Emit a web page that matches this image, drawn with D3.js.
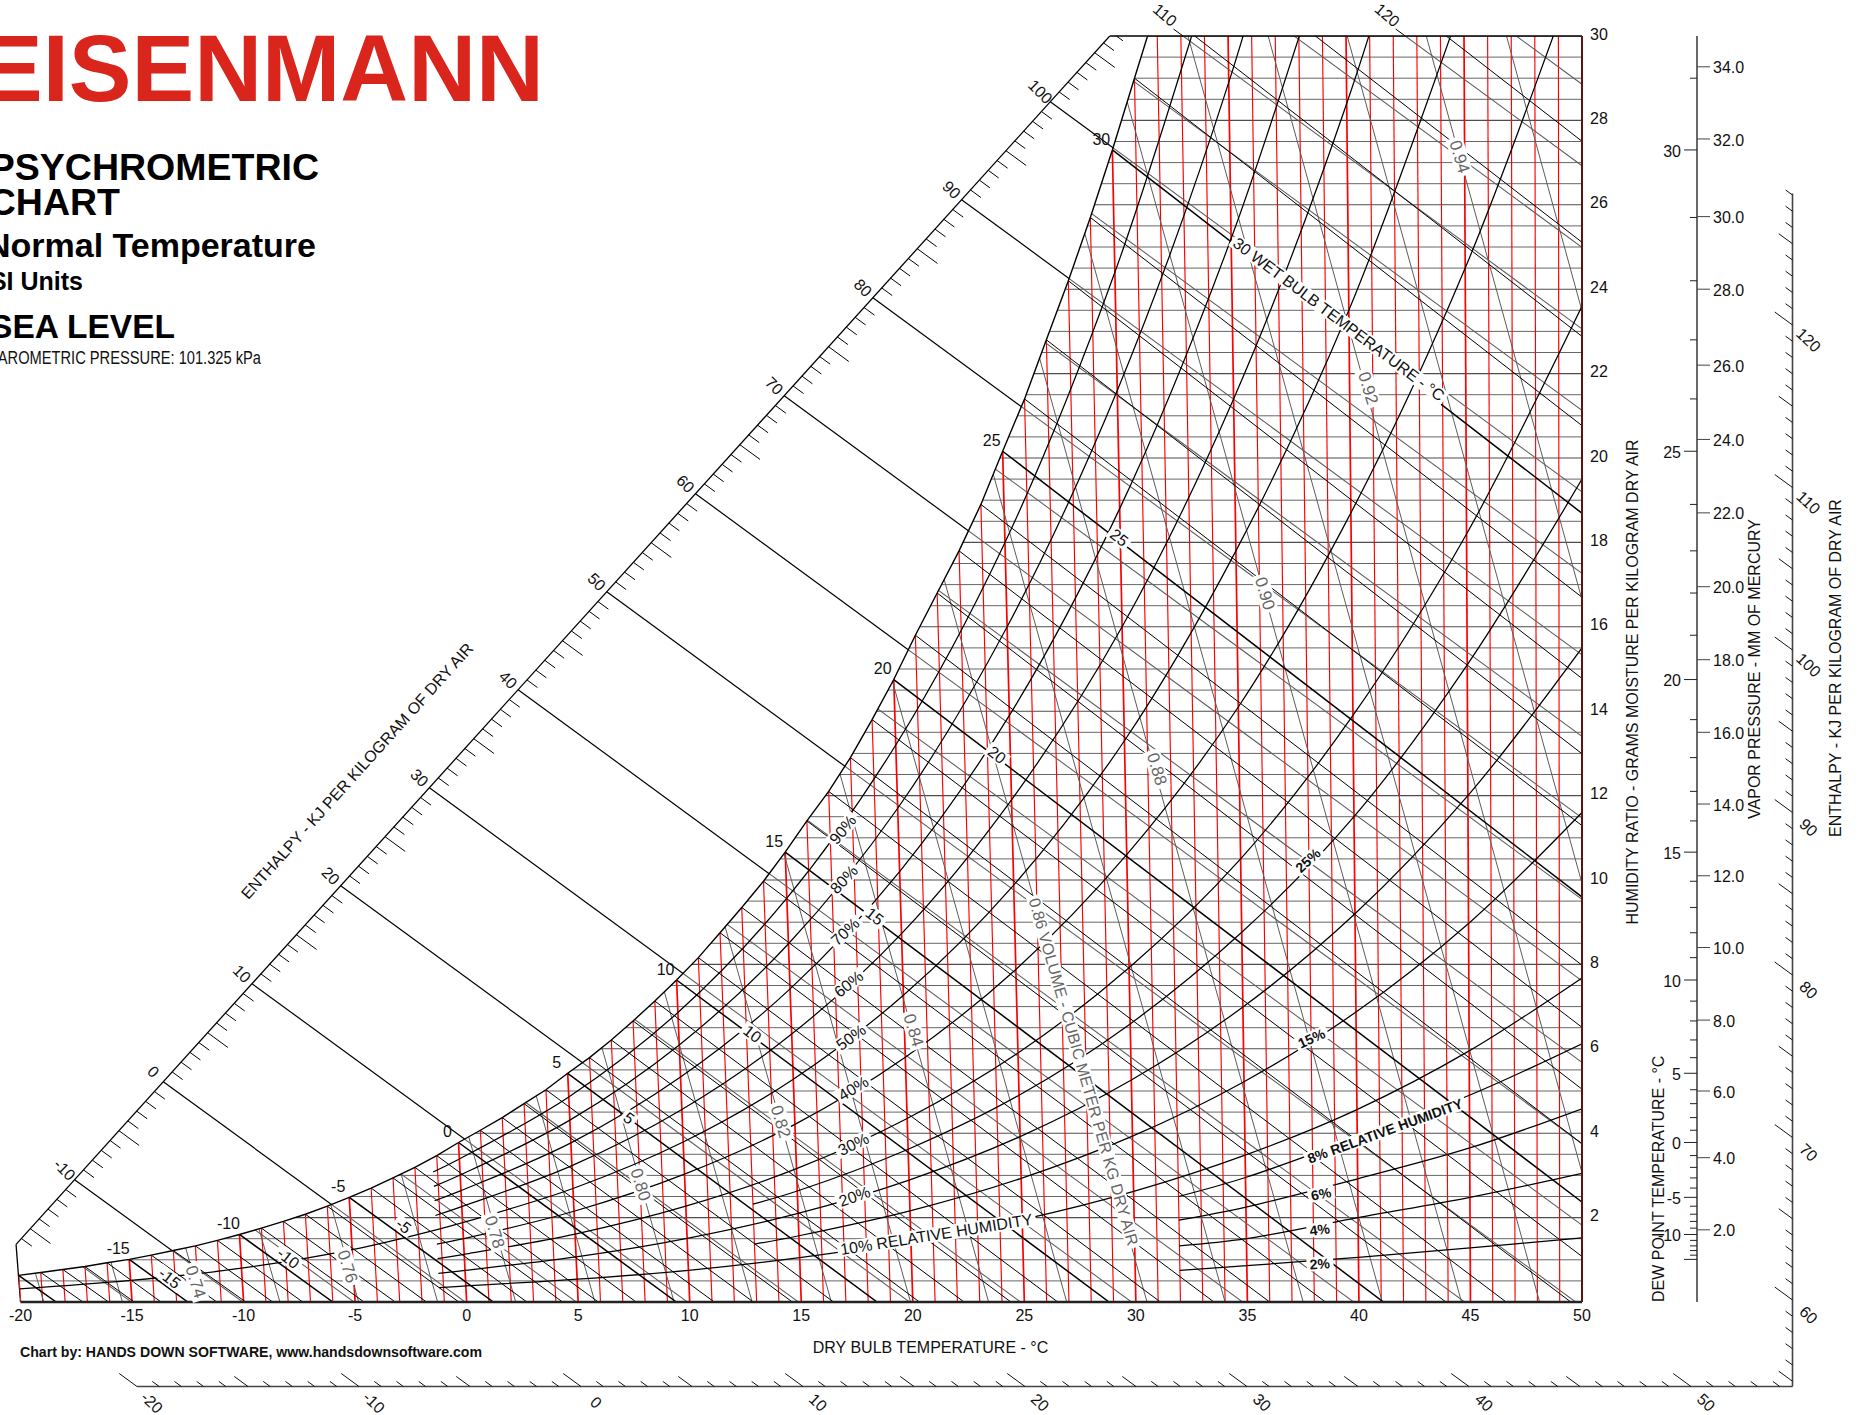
<!DOCTYPE html>
<html>
<head>
<meta charset="utf-8">
<script src="https://cdn.jsdelivr.net/npm/d3@7"></script>
<style>
	body { margin: 0; background: #fff; }
	svg { display: block; font-family: "Liberation Sans", Arial, sans-serif; }
	text { fill: #111; }
</style>
</head>
<body>
<svg id="chart" width="1861" height="1415"></svg>
<script>
// saturation curve, g/kg per degree
const sat_t = d3.range(-20, 33);
const sat_w = [0.63, 0.70, 0.77, 0.84, 0.93, 1.01, 1.11, 1.22, 1.33, 1.46,
	1.60, 1.75, 1.91, 2.08, 2.27, 2.48, 2.70, 2.94, 3.19, 3.47,
	3.78, 4.07, 4.37, 4.70, 5.03, 5.42, 5.79, 6.21, 6.66, 7.13,
	7.63, 8.16, 8.75, 9.35, 9.97, 10.66, 11.4, 12.1, 12.9, 13.8,
	14.75, 15.8, 16.8, 17.8, 18.9, 20.16, 21.4, 22.8, 24.2, 25.7,
	27.3, 29.0, 30.7];

// wet bulb lines: wet bulb temp, moisture at saturation, dry bulb where the line meets w = 0
const wb_t = d3.range(-20, 36);
const wb_w = sat_w.concat([32.5, 34.5, 36.7]);
const wb_end = [-18.4, -17.2, -16.05, -14.9, -13.7, -12.5, -11.2, -9.9, -8.7, -7.35,
	-6.0, -4.6, -3.2, -1.8, -0.35, 1.2, 2.7, 4.3, 5.9, 7.6,
	9.4, 11.1, 12.85, 14.6, 16.45, 18.4, 20.3, 22.3, 24.4, 26.5,
	28.8, 31.1, 33.5, 36, 38.5, 41.1, 43.9, 46.6, 49.5, 52.7,
	55.9, 59.3, 62.4, 66.1, 69.7, 73.6, 77.9, 81.8, 86.1, 90.9,
	95.7, 100.6, 105.8, 111.4, 117.1, 123.3];

// relative humidity curves, moisture at the temps in rh_t
const rh_t = [-1.2, 0, 5, 10, 15, 20, 25, 30, 35, 40, 45, 50];
const rh90 = [3.08, 3.39, 4.86, 6.86, 9.57, 13.2, 18.0, 24.4, 32.7];
const rh80 = [2.74, 3.01, 4.31, 6.09, 8.49, 11.7, 16.0, 21.6, 28.9, 38.5];
const rh70 = [2.40, 2.64, 3.77, 5.33, 7.42, 10.2, 13.9, 18.8, 25.2, 33.4];
const rh60 = [2.05, 2.26, 3.23, 4.56, 6.35, 8.73, 11.9, 16.0, 21.4, 28.4, 37.4];
const rh50 = [1.71, 1.88, 2.69, 3.79, 5.28, 7.27, 9.88, 13.3, 17.8, 23.5, 30.9];
const rh40 = [1.37, 1.50, 2.15, 3.03, 4.21, 5.80, 7.88, 10.6, 14.1, 18.7, 24.5, 31.9];
const rh30 = [1.03, 1.13, 1.61, 2.27, 3.16, 4.35, 5.90, 7.92, 10.5, 13.9, 18.2, 23.6];
const rh20 = [0.68, 0.75, 1.07, 1.51, 2.10, 2.89, 3.92, 5.26, 6.99, 9.20, 12.0, 15.5];
const rh10 = [0.34, 0.38, 0.54, 0.75, 1.05, 1.44, 1.95, 2.62, 3.48, 4.56, 5.95, 7.68];

// 50% carries on down to -20
const rh50_low_t = [-20, -15, -10, -5, -1.2];
const rh50_low = [0.31, 0.51, 0.80, 1.24, 1.71];

const rh_mid_t = [13, 15, 20, 25, 30, 35, 40, 45, 50];
const rh25 = [2.32, 2.63, 3.62, 4.90, 6.59, 8.76, 11.5, 15.1, 19.5];
const rh15 = [1.37, 1.57, 2.16, 2.93, 3.93, 5.22, 6.87, 8.97, 11.6];

const rh_low_t = [32, 35, 40, 45, 50];
const rh8 = [2.5, 2.95, 3.9, 4.9, 6.12];
const rh6 = [1.94, 2.25, 2.92, 3.65, 4.58];
const rh4 = [1.33, 1.5, 2.0, 2.48, 3.05];
const rh2 = [0.75, 0.86, 1.06, 1.28, 1.52];

// specific volume lines: dry bulb at w = 0 and at w = 30
const vol_vals = [0.72, 0.73, 0.74, 0.75, 0.76, 0.77, 0.78, 0.79, 0.80, 0.81, 0.82, 0.83, 0.84,
	0.85, 0.86, 0.87, 0.88, 0.89, 0.90, 0.91, 0.92, 0.93, 0.94, 0.95, 0.96];
const vol_t0 = [-18.96, -15.43, -11.9, -8.37, -4.84, -1.3, 2.2, 5.75, 9.3, 12.8, 16.35, 19.9, 23.4,
	26.9, 30.5, 34, 37.5, 41.05, 44.6, 48.1, 51.6, 55.2, 58.7, 62.2, 65.8];
const vol_t30 = [-30.65, -27.3, -23.9, -20.55, -17.2, -13.8, -10.45, -7.1, -3.7, -0.35, 3.0, 6.4, 9.75,
	13.1, 16.5, 19.85, 23.2, 26.6, 29.95, 33.3, 36.7, 40.05, 43.4, 46.8, 50.2];

// vapor pressure axis: mm Hg and the matching moisture
const vp_mm = ['2.0', '4.0', '6.0', '8.0', '10.0', '12.0', '14.0', '16.0', '18.0',
	'20.0', '22.0', '24.0', '26.0', '28.0', '30.0', '32.0', '34.0'];
const vp_w = [1.71, 3.42, 5.0, 6.68, 8.4, 10.1, 11.8, 13.5, 15.22,
	16.95, 18.7, 20.44, 22.2, 24.0, 25.72, 27.56, 29.27];

const dew_ticks = d3.range(-15, 32);
const dew_labels = [-10, -5, 0, 5, 10, 15, 20, 25, 30];
const db_labels = d3.range(-20, 51, 5);
const w_labels = d3.range(2, 31, 2);
const enth_upper_labels = d3.range(-10, 101, 10);
const enth_bottom_labels = d3.range(-20, 51, 10);
const enth_right_labels = d3.range(60, 121, 10);
const sat_labels = [-15, -10, -5, 0, 5, 10, 15, 20, 25, 30];

const SKEW = 0.043;
const x_t = d3.scaleLinear().domain([-20, 50]).range([20.5, 1582]);
const y_w = d3.scaleLinear().domain([0, 30]).range([1302, 36]);

// dry bulb lines fan out slightly, they are only truly vertical at 50
const project = (t, w) => [x_t(t) - SKEW * (50 - t) * w, y_w(w)];

const w_to_sat_t = d3.scaleLinear().domain(sat_w).range(sat_t);
const sat_w_at = d3.scaleLinear().domain(sat_t).range(sat_w);

// enthalpy axes
const upper_x = d3.scaleLinear().domain([0, 100]).range([163.3, 1050.3]);
const upper_y = d3.scaleLinear().domain([0, 100]).range([1081.7, 101.7]);
const bottom_x = d3.scaleLinear().domain([0, 50]).range([581, 1691]);
const right_y = d3.scaleLinear().domain([60, 120]).range([1300, 325]);
const BOTTOM_Y = 1386.5;
const RIGHT_X = 1792.5;
const UX = 0.807, UY = 0.59;

const DEW_X = 1697;

const svg = d3.select('#chart');
const px = v => v * 1861 / 1568;

const defs = svg.append('defs');
defs.append('clipPath').attr('id', 'plot_clip').append('rect')
	.attr('x', 0).attr('y', y_w(30))
	.attr('width', x_t(50)).attr('height', y_w(0) - y_w(30));

const sat_points = sat_t.map((t, i) => project(t, sat_w[i]));
const chart_outline = sat_points.concat([project(50, 30.7), project(50, 0), project(-20, 0)]);
defs.append('clipPath').attr('id', 'chart_clip').append('polygon')
	.attr('points', chart_outline.map(d => d.join(',')).join(' '));

const seg = (g, a, b, stroke, width) => g.append('line')
	.attr('x1', a[0]).attr('y1', a[1])
	.attr('x2', b[0]).attr('y2', b[1])
	.attr('stroke', stroke).attr('stroke-width', width);

const initEnthalpyScales = () => {
	const g = svg.append('g').attr('clip-path', 'url(#plot_clip)');

	// outer edge of the scale
	seg(g, [upper_x(-16.6), upper_y(-16.6)], [upper_x(106.7), upper_y(106.7)], '#000', 1.3);

	d3.range(-16, 112).forEach(h => {
		if (h % 10 === 0) return;
		const len = h % 5 === 0 ? 25 : 13;
		const p = [upper_x(h), upper_y(h)];
		seg(g, p, [p[0] + UX * len, p[1] + UY * len], '#000', 1);
	});

	// the long black lines across the empty part, down to the saturation curve
	enth_upper_labels.forEach(h => {
		seg(g, [upper_x(h), upper_y(h)], [bottom_x(h), BOTTOM_Y], '#000', 1.2);
	});

	enth_upper_labels.forEach(h => {
		svg.append('text')
			.attr('transform', `translate(${upper_x(h) - 10},${upper_y(h) - 10}) rotate(45)`)
			.attr('text-anchor', 'middle').attr('dy', '.35em')
			.attr('font-size', 16)
			.text(h);
	});

	// left edge below the scale
	seg(svg, [upper_x(-16.6), upper_y(-16.6)], [x_t(-20), y_w(0)], '#000', 1.3);

	// bottom scale
	const b = svg.append('g');
	seg(b, [bottom_x(-20), BOTTOM_Y], [RIGHT_X, BOTTOM_Y], '#444', 1.6);
	d3.range(-20, 55).forEach(h => {
		const len = h % 10 === 0 ? 22 : (h % 5 === 0 ? 17 : 8.6);
		const p = [bottom_x(h), BOTTOM_Y];
		seg(b, p, [p[0] - UX * len, p[1] - UY * len], '#111', 1);
	});
	enth_bottom_labels.forEach(h => {
		b.append('text')
			.attr('transform', `translate(${bottom_x(h) + 15},${BOTTOM_Y + 16}) rotate(43)`)
			.attr('text-anchor', 'middle').attr('dy', '.35em')
			.attr('font-size', 16)
			.text(h);
	});

	// right scale
	seg(b, [RIGHT_X, right_y(128.1)], [RIGHT_X, BOTTOM_Y], '#444', 1.6);
	d3.range(55, 129).forEach(h => {
		const len = h % 10 === 0 ? 22 : (h % 5 === 0 ? 17 : 8.6);
		const p = [RIGHT_X, right_y(h)];
		seg(b, p, [p[0] - UX * len, p[1] - UY * len], '#111', 1);
	});
	enth_right_labels.forEach(h => {
		b.append('text')
			.attr('transform', `translate(${RIGHT_X + 16},${right_y(h) + 15}) rotate(43)`)
			.attr('text-anchor', 'middle').attr('dy', '.35em')
			.attr('font-size', 16)
			.text(h);
	});
};

const initChart = () => {
	const plot = svg.append('g').attr('clip-path', 'url(#plot_clip)');
	const g = plot.append('g').attr('clip-path', 'url(#chart_clip)');

	g.append('polygon')
		.attr('points', chart_outline.map(d => d.join(',')).join(' '))
		.attr('fill', '#fff');

	// moisture lines every half gram, from the saturation curve to the right edge
	d3.range(0.5, 30.01, 0.5).forEach(w => {
		const t = w < sat_w[0] ? -20 : Math.min(w_to_sat_t(w), 32);
		seg(g, project(t, w), project(50, w), w % 2 === 0 ? '#4d4d4d' : '#5e5e5e', w % 2 === 0 ? 1.1 : 0.95);
	});

	// dry bulb
	d3.range(-20, 50).forEach(t => {
		const top = t <= 32 ? sat_w_at(t) : 30;
		seg(g, project(t, top), project(t, 0), '#f00', t % 5 === 0 ? 1.7 : 1.15);
	});

	// volume
	vol_vals.forEach((v, i) => {
		seg(g, project(vol_t0[i], 0), project(vol_t30[i], 30), '#5c5c5c', 1);
	});

	// enthalpy, grey inside the chart
	d3.range(-20, 131, 5).forEach(h => {
		seg(g, [upper_x(h), upper_y(h)], [bottom_x(h), BOTTOM_Y], '#5c5c5c', 1.05);
	});

	// wet bulb
	wb_t.forEach((t, i) => {
		seg(g, project(t, wb_w[i]), project(wb_end[i], 0), '#000', t % 5 === 0 ? 1.5 : 1);
	});

	// relative humidity
	const rh_line = d3.line()
		.x(d => project(d[0], d[1])[0])
		.y(d => project(d[0], d[1])[1])
		.curve(d3.curveCatmullRom);

	const curves = [
		[rh_t, rh90], [rh_t, rh80], [rh_t, rh70], [rh_t, rh60], [rh_t, rh50], [rh_t, rh40],
		[rh_t, rh30], [rh_t, rh20], [rh_t, rh10], [rh50_low_t, rh50_low],
		[rh_mid_t, rh25], [rh_mid_t, rh15],
		[rh_low_t, rh8], [rh_low_t, rh6], [rh_low_t, rh4], [rh_low_t, rh2]
	];
	curves.forEach(c => {
		g.append('path')
			.datum(d3.zip(c[0], c[1]))
			.attr('d', rh_line)
			.attr('fill', 'none')
			.attr('stroke', '#000')
			.attr('stroke-width', 1.25);
	});

	// saturation curve
	plot.append('path')
		.datum(sat_points)
		.attr('d', d3.line())
		.attr('fill', 'none')
		.attr('stroke', '#000')
		.attr('stroke-width', 1.4);

	// frame
	seg(svg, [upper_x(106.7), y_w(30)], [x_t(50), y_w(30)], '#000', 1.5);
	seg(svg, [x_t(-20), y_w(0)], [x_t(50), y_w(0)], '#222', 2.6);
	seg(svg, [x_t(50), y_w(30)], [x_t(50), y_w(0)], '#5a1414', 2);

	// little stubs of the enthalpy lines above the top edge
	[110, 120].forEach(h => {
		const top_x = d3.scaleLinear().domain([upper_y(h), BOTTOM_Y]).range([upper_x(h), bottom_x(h)]);
		seg(svg, [top_x(y_w(30) - 7), y_w(30) - 7], [top_x(y_w(30)), y_w(30)], '#000', 1);
		svg.append('text')
			.attr('transform', `translate(${top_x(y_w(30)) - 18},${y_w(30) - 21}) rotate(40)`)
			.attr('text-anchor', 'middle').attr('dy', '.35em')
			.attr('font-size', 16)
			.text(h);
	});
};

const initAxes = () => {
	db_labels.forEach(t => {
		svg.append('text')
			.attr('x', x_t(t)).attr('y', 1315)
			.attr('text-anchor', 'middle').attr('dy', '.35em')
			.attr('font-size', 16)
			.text(t);
	});
	w_labels.forEach(w => {
		svg.append('text')
			.attr('x', 1590).attr('y', y_w(w) - 2)
			.attr('dy', '.35em')
			.attr('font-size', 16)
			.text(w);
	});
	sat_labels.forEach(t => {
		const p = project(t, sat_w_at(t));
		svg.append('text')
			.attr('x', p[0] - 11).attr('y', p[1] - 11)
			.attr('text-anchor', 'middle').attr('dy', '.35em')
			.attr('font-size', 16)
			.text(t);
	});

	// dew point and vapor pressure share one line
	seg(svg, [DEW_X, y_w(30)], [DEW_X, y_w(0)], '#444', 1.6);
	dew_ticks.forEach(t => {
		const y = y_w(sat_w_at(t));
		seg(svg, [DEW_X - (t % 5 === 0 ? 13 : 7), y], [DEW_X, y], '#222', 1);
	});
	dew_labels.forEach(t => {
		svg.append('text')
			.attr('x', 1681).attr('y', y_w(sat_w_at(t)) + 1)
			.attr('text-anchor', 'end').attr('dy', '.35em')
			.attr('font-size', 16)
			.text(t);
	});
	vp_mm.forEach((mm, i) => {
		const y = y_w(vp_w[i]);
		seg(svg, [DEW_X, y], [DEW_X + 13, y], '#444', 1);
		svg.append('text')
			.attr('x', 1713).attr('y', y + 1)
			.attr('dy', '.35em')
			.attr('font-size', 16)
			.text(mm);
	});

	const titled = (text, x, y, rot, anchor) => svg.append('text')
		.attr('transform', `translate(${x},${y}) rotate(${rot})`)
		.attr('text-anchor', anchor || 'middle')
		.attr('dy', '.35em')
		.attr('font-size', 16)
		.text(text);

	titled('DRY BULB TEMPERATURE - °C', px(784), px(1135.5), 0);
	titled('HUMIDITY RATIO - GRAMS MOISTURE PER KILOGRAM DRY AIR', 1632, 682, -90);
	titled('DEW POINT TEMPERATURE - °C', 1658, 1302, -90, 'start');
	titled('VAPOR PRESSURE - MM OF MERCURY', 1754, 669, -90);
	titled('ENTHALPY - KJ PER KILOGRAM OF DRY AIR', 1835, 668, -90);
	titled('ENTHALPY - KJ PER KILOGRAM OF DRY AIR', 357, 771, -48);
};

// text with a white box knocked out of the lines behind it
const boxed = (text, x, y, rot, color, bold, size) => {
	const g = svg.append('g').attr('transform', `translate(${px(x)},${px(y)}) rotate(${rot})`);
	const rect = g.append('rect').attr('fill', '#fff');
	const t = g.append('text')
		.attr('text-anchor', 'middle').attr('dy', '.35em')
		.attr('font-size', size || 16)
		.attr('font-weight', bold ? 'bold' : 'normal')
		.style('fill', color || '#111')
		.text(text);
	const b = t.node().getBBox();
	rect.attr('x', b.x - 3).attr('y', b.y + 1)
		.attr('width', b.width + 6).attr('height', b.height - 2);
};

const initLineLabels = () => {
	const grey = '#666';
	boxed('0.74', 165, 1080, 73, grey, false, 17);
	boxed('0.76', 293, 1067, 73, grey, false, 17);
	boxed('0.78', 417, 1038, 73, grey, false, 17);
	boxed('0.80', 540, 998, 73, grey, false, 17);
	boxed('0.82', 658, 945, 73, grey, false, 17);
	boxed('0.84', 770, 868, 73, grey, false, 17);
	boxed('0.86 VOLUME - CUBIC METER PER KG DRY AIR', 913, 903, 74, grey);
	boxed('0.88', 975, 648, 73, grey, false, 17);
	boxed('0.90', 1066, 500, 73, grey, false, 17);
	boxed('0.92', 1153, 327, 73, grey, false, 17);
	boxed('0.94', 1230, 132, 73, grey, false, 17);

	boxed('-15', 143, 1077, 38);
	boxed('-10', 243, 1060, 38);
	boxed('-5', 340, 1033, 38);
	boxed('5', 530, 942, 38);
	boxed('10', 634, 871, 38);
	boxed('15', 737, 772, 38);
	boxed('20', 840, 636, 38);
	boxed('25', 943, 453, 38);
	boxed('30 WET BULB TEMPERATURE - °C', 1128, 269, 37);

	boxed('90%', 710, 699, -50);
	boxed('80%', 711, 741, -47);
	boxed('70%', 712, 785, -43);
	boxed('60%', 715, 829, -39);
	boxed('50%', 717, 874, -36);
	boxed('40%', 719, 917, -31);
	boxed('30%', 719, 964, -26);
	boxed('20%', 720, 1008, -19);
	boxed('10% RELATIVE HUMIDITY', 789, 1040, -9);

	boxed('25%', 1102, 725, -43, null, true, 14);
	boxed('15%', 1105, 875, -24, null, true, 14);
	boxed('8% RELATIVE HUMIDITY', 1167, 953, -20, null, true, 14);
	boxed('6%', 1113, 1006, -11, null, true, 14);
	boxed('4%', 1112, 1036, -7, null, true, 14);
	boxed('2%', 1112, 1065, -4, null, true, 14);
};

const initTitles = () => {
	const title = (text, right, base, size, weight) => svg.append('text')
		.attr('x', right).attr('y', base)
		.attr('text-anchor', 'end')
		.attr('font-size', size)
		.attr('font-weight', weight || 'bold')
		.style('fill', '#000')
		.text(text);

	title('EISENMANN', 544, 100.5, 94).style('fill', '#da251d');
	title('PSYCHROMETRIC', 319, 180, 37.5);
	title('CHART', 120, 215, 37.5);
	title('Normal Temperature', 316, 257, 34);
	title('SI Units', 83, 290, 25);
	title('SEA LEVEL', 175, 338, 33.5);

	svg.append('text')
		.attr('x', -12).attr('y', 364)
		.attr('font-size', 17.5)
		.attr('textLength', 273)
		.attr('lengthAdjust', 'spacingAndGlyphs')
		.text('BAROMETRIC PRESSURE: 101.325 kPa');

	svg.append('text')
		.attr('x', 20).attr('y', 1357)
		.attr('font-size', 14)
		.attr('font-weight', 'bold')
		.attr('textLength', 462)
		.attr('lengthAdjust', 'spacingAndGlyphs')
		.text('Chart by: HANDS DOWN SOFTWARE, www.handsdownsoftware.com');
};

initEnthalpyScales();
initChart();
initAxes();
initLineLabels();
initTitles();
</script>
</body>
</html>
